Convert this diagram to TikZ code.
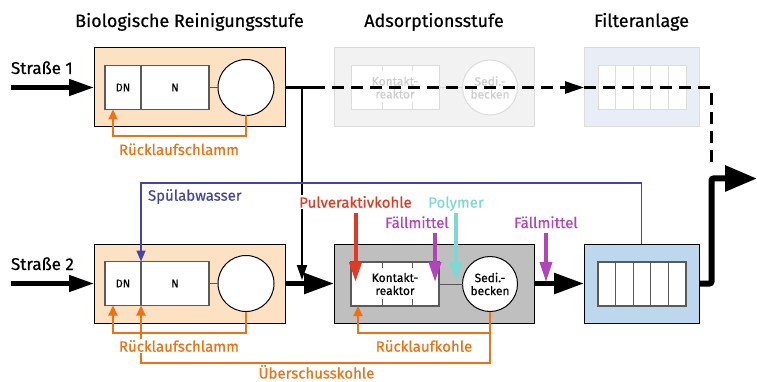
\documentclass[tikz,border=0pt]{standalone}
\usepackage{fontspec}
\setmainfont{Fira Sans}[FakeBold=0.5]
\usetikzlibrary{arrows.meta,calc}

\definecolor{biofill}{HTML}{FDE1C3}
\definecolor{adsfill}{HTML}{BFBFBF}
\definecolor{filfill}{HTML}{BDD7EE}
\definecolor{ghostfill}{HTML}{F2F2F2}
\definecolor{ghostfil}{HTML}{E9EDF5}
\definecolor{ghostline}{HTML}{DCDCDC}
\definecolor{ghosttext}{HTML}{CDCDCD}
\definecolor{cellline}{HTML}{5A5A5A}
\definecolor{rueck}{HTML}{F07114}
\definecolor{spuel}{HTML}{4444A8}
\definecolor{pak}{HTML}{E23A22}
\definecolor{poly}{HTML}{7DD8D3}
\definecolor{faell}{HTML}{B044B8}

\begin{document}
\begin{tikzpicture}[x=1pt,y=-1pt,line width=1pt,
  every node/.style={inner sep=0pt,outer sep=0pt},
  title/.style={font=\fontsize{18}{21}\selectfont,anchor=base},
  lbl/.style={font=\fontsize{15}{17}\selectfont,anchor=base},
  strasse/.style={font=\fontsize{17}{20}\selectfont,anchor=base west},
  small/.style={font=\fontsize{11}{14}\selectfont},
  inner/.style={font=\fontsize{12}{14}\selectfont,align=center},
  stage/.style={draw=black,line width=1pt,minimum height=79pt},
  ghost/.style={draw=ghostline,line width=1pt,minimum height=79pt},
  cell/.style={draw=cellline,fill=white,line width=1.2pt,minimum height=44pt},
  gcell/.style={draw=ghostline,fill=white,line width=1pt,minimum height=44pt,text=ghosttext},
  becken/.style={circle,draw=black,fill=white,line width=1pt,minimum size=56pt},
  gbecken/.style={circle,draw=ghostline,fill=white,line width=1pt,minimum size=55pt,text=ghosttext},
  flow/.style={line width=4.5pt,-{Triangle[length=25pt,width=16pt]}},
  bigflow/.style={line width=5.5pt,-{Triangle[length=30pt,width=20pt]}},
  feed/.style={line width=3.5pt,-{Triangle[length=20pt,width=12pt]}},
  ret/.style={rueck,line width=2pt,-{Triangle[length=10pt,width=9pt]}},
  dashline/.style={line width=2.5pt,dash pattern=on 12pt off 7pt},
  link/.style={draw=cellline,line width=1pt}]
  \useasboundingbox (0,0) rectangle (757,382);

  % stage titles
  \node[title] (tbio) at (189.5,27) {Biologische Reinigungsstufe};
  \node[title] (tads) at (434,27) {Adsorptionsstufe};
  \node[title] (tfil) at (641.5,27) {Filteranlage};
  \node[strasse] (s1) at (11,74) {Straße 1};
  \node[strasse] (s2) at (11,270) {Straße 2};

  % Strasse 1
  \node[stage,fill=biofill,minimum width=191pt] (bio1) at (189.5,87.5) {};
  \node[cell,small,minimum width=36pt] (dn1) at (123,87.5) {DN};
  \node[cell,small,minimum width=68pt] (n1) at (175,87.5) {N};
  \node[becken] (nb1) at (246,87.5) {};
  \draw[link] (n1) -- (nb1);

  \node[ghost,fill=ghostfill,minimum width=200pt] (ads1) at (434,87.5) {};
  \node[gcell,inner,minimum width=88pt] (kr1) at (395,87.5) {Kontakt-\\[-1pt]reaktor};
  \node[gbecken,inner] (sb1) at (490,87.5) {Sedi.-\\[-1pt]becken};
  \draw[ghostline] (kr1) -- (sb1);
  \draw[ghostline] ($(kr1.north west)+(31,0)$) -- ++(0,6)
    ($(kr1.south west)+(31,0)$) -- ++(0,-7)
    ($(kr1.north west)+(61,0)$) -- ++(0,6)
    ($(kr1.south west)+(61,0)$) -- ++(0,-7);

  \node[ghost,fill=ghostfil,minimum width=115pt] (fil1) at (641.5,87.5) {};
  \node[gcell,minimum width=88pt] (fc1) at (642,87.5) {};
  \foreach \i in {1,...,4}
    \draw[ghostline] ($(fc1.north west)+(17.6*\i,0)$) -- ($(fc1.south west)+(17.6*\i,0)$);

  % Strasse 2
  \node[stage,fill=biofill,minimum width=191pt] (bio2) at (189.5,283.5) {};
  \node[cell,small,minimum width=36pt] (dn2) at (123,283.5) {DN};
  \node[cell,small,minimum width=68pt] (n2) at (175,283.5) {N};
  \node[becken] (nb2) at (246,283.5) {};
  \draw[link] (n2) -- (nb2);

  \node[stage,fill=adsfill,minimum width=200pt] (ads2) at (434,283.5) {};
  \node[cell,inner,minimum width=88pt] (kr2) at (395,284) {Kontakt-\\[-1pt]reaktor};
  \node[becken,inner,minimum size=55pt] (sb2) at (490,284) {Sedi.-\\[-1pt]becken};
  \draw[link] (kr2) -- (sb2);
  \draw[link] ($(kr2.north west)+(31,0)$) -- ++(0,6)
    ($(kr2.south west)+(31,0)$) -- ++(0,-7)
    ($(kr2.north west)+(61,0)$) -- ++(0,6)
    ($(kr2.south west)+(61,0)$) -- ++(0,-7);

  \node[stage,fill=filfill,minimum width=115pt] (fil2) at (641.5,283.5) {};
  \node[cell,minimum width=88pt] (fc2) at (642,284) {};
  \foreach \i in {1,...,4}
    \draw[link,line width=1.2pt] ($(fc2.north west)+(17.6*\i,0)$) -- ($(fc2.south west)+(17.6*\i,0)$);

  % main flow
  \coordinate (j1) at (302,87.5);
  \coordinate (d1) at (313,87.5);
  \coordinate (d2) at (711.5,87.5);
  \coordinate (d3) at (711.5,165);
  \coordinate (out) at (757,178.5);
  \draw[flow] (s1.west |- bio1) -- (bio1.west);
  \draw[line width=2.5pt] (bio1.east) -- (d1);
  \draw[dashline,-{Triangle[length=19pt,width=12pt]}] (d1) -- (fil1.west);
  \draw[dashline] (fil1.west) -- (d2) -- (d3);
  \draw[line width=2pt,-{Triangle[length=15pt,width=10pt]},shorten >=3.5pt]
    (j1) -- (j1 |- bio2.east);

  \draw[flow] (s2.west |- bio2) -- (bio2.west);
  \draw[bigflow] (bio2.east) -- (ads2.west);
  \draw[bigflow] (ads2.east) -- (fil2.west);
  \draw[line width=6pt,rounded corners=2pt,-{Triangle[length=32pt,width=25pt]}]
    (fil2.east) -| (out -| d3) -- (out);

  % Spuelabwasser
  \draw[spuel,line width=1.5pt,-{Triangle[length=11pt,width=9pt]}]
    (fil2.north) -- ++(0,-61) -| (n2.north west);
  \node[lbl,text=spuel,anchor=base west] (spl) at (148,200.7) {Spülabwasser};

  % returns
  \draw[ret] (nb1.south) -- ++(0,21) -| ($(dn1.south west)+(8,0)$);
  \node[lbl,text=rueck] (rs1) at (179,155) {Rücklaufschlamm};
  \draw[ret] (nb2.south) -- ++(0,21) -| ($(dn2.south west)+(8,0)$);
  \draw[ret] (sb2.south) -- ++(0,51.5) -| (n2.south west);
  \coordinate (rk) at ($(sb2.south)+(0,21.5)$);
  \draw[ret] (rk) -| ($(kr2.south west)+(7,0)$);
  \node[lbl,text=rueck,fill=white,inner sep=1pt] (rs2) at (179,351.7) {Rücklaufschlamm};
  \node[lbl,text=rueck] (rkl) at (424,351.7) {Rücklaufkohle};
  \node[lbl,text=rueck] (ukl) at (316.5,378.5) {Überschusskohle};

  % dosing
  \node[lbl,text=pak,fill=white,inner sep=1pt] (pakl) at (355.5,207.7) {Pulveraktivkohle};
  \node[lbl,text=poly] (polyl) at (456,207.7) {Polymer};
  \node[lbl,text=faell] (fm1) at (417,228) {Fällmittel};
  \node[lbl,text=faell] (fm2) at (546,228) {Fällmittel};
  \coordinate (pakin) at (355.5,282);
  \coordinate (polyin) at (456,282);
  \coordinate (fm1in) at (435,282);
  \coordinate (fm2in) at (546,282);
  \draw[feed,pak,line width=4pt] ($(pakl.base)+(0,5.5)$) -- (pakin);
  \draw[feed,poly] ($(polyl.base)+(0,5.5)$) -- (polyin);
  \draw[feed,faell] ($(fm1.base)+(18,5)$) -- (fm1in);
  \draw[feed,faell] ($(fm2.base)+(0,5)$) -- (fm2in);
\end{tikzpicture}
\end{document}
